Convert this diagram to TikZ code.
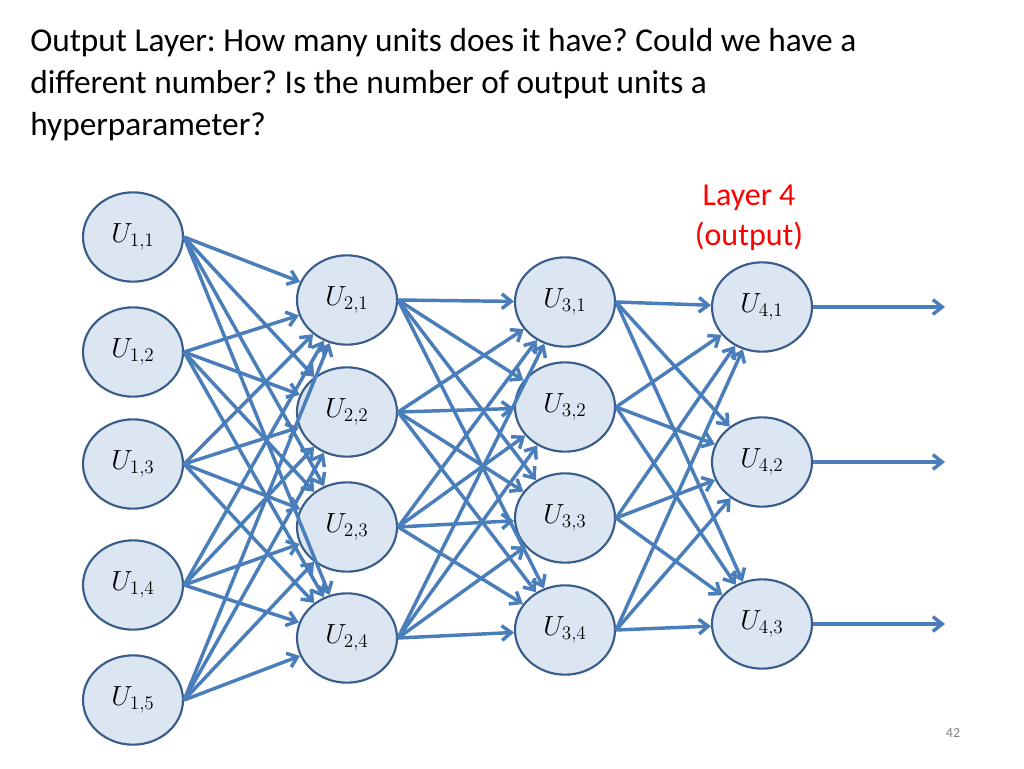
\documentclass[tikz,border=0pt]{standalone}
\usepackage{fontspec}
\setmainfont{Carlito}
\usetikzlibrary{arrows.meta,shapes.geometric}
\begin{document}
\frenchspacing
\begin{tikzpicture}[x=0.75pt,y=-0.75pt,
  unit/.style={ellipse,draw={rgb,255:red,56;green,93;blue,138},fill={rgb,255:red,220;green,230;blue,242},line width=1.6pt,minimum width=75pt,minimum height=67pt,inner sep=0pt,font=\fontsize{21}{24}\selectfont},
  edge/.style={draw={rgb,255:red,74;green,126;blue,187},line width=2.6pt,-{Straight Barb[length=7pt,width=11pt]}}]
\useasboundingbox (0,0) rectangle (1024,768);
\node[anchor=north west,align=left,font=\fontsize{25}{31.5}\selectfont,inner sep=0pt] (title) at (30,28)
 {Output Layer: How many units does it have? Could we have a\\different number? Is the number of output units a\\hyperparameter?};
\node[red,align=center,font=\fontsize{24}{30}\selectfont] (lab) at (749,218) {Layer 4\\(output)};
\node[gray,font=\fontsize{10.5}{12}\selectfont] (pg) at (953,733) {42};
\foreach \i/\y in {1/237,2/352,3/464,4/585,5/700} \node[unit] (a\i) at (133,\y) {$U_{1,\i}$};
\foreach \i/\y in {1/300,2/412,3/527,4/638} \node[unit] (b\i) at (347,\y) {$U_{2,\i}$};
\foreach \i/\y in {1/302,2/407,3/518,4/630} \node[unit] (c\i) at (565,\y) {$U_{3,\i}$};
\foreach \i/\y in {1/307,2/462,3/624} \node[unit] (d\i) at (762,\y) {$U_{4,\i}$};
\foreach \i in {1,...,5} \foreach \j in {1,...,4} \draw[edge] (a\i.east) -- (b\j);
\foreach \i in {1,...,4} \foreach \j in {1,...,4} \draw[edge] (b\i.east) -- (c\j);
\foreach \i in {1,...,4} \foreach \j in {1,...,3} \draw[edge] (c\i.east) -- (d\j);
\foreach \j/\y in {1/307,2/462,3/624} {\coordinate (o\j) at (945,\y); \draw[edge] (d\j) -- (o\j);}
\end{tikzpicture}
\end{document}
